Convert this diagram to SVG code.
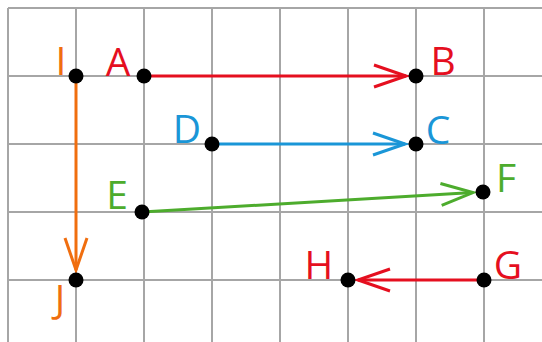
<svg xmlns="http://www.w3.org/2000/svg" width="542" height="342" viewBox="0 0 542 342">
<style>
.grid line{stroke:#a6a6a6;stroke-width:2}
.lbl{font-family:"Open Sans","Noto Sans",sans-serif;font-size:39px;text-anchor:middle}
.dot{fill:#000}
.red{fill:#e50f1f}.blue{fill:#1a96d7}.green{fill:#4dac2d}.orange{fill:#f06e0f}
.con{stroke-width:3;fill:none}
</style>
<defs>
<marker id="mr" markerUnits="userSpaceOnUse" markerWidth="40" markerHeight="30" viewBox="-36 -15 40 30" refX="0" refY="0" orient="auto"><path d="M-32,-11 L0,0 L-32,11" fill="none" stroke="#e50f1f" stroke-width="3"/></marker>
<marker id="mb" markerUnits="userSpaceOnUse" markerWidth="40" markerHeight="30" viewBox="-36 -15 40 30" refX="0" refY="0" orient="auto"><path d="M-32,-11 L0,0 L-32,11" fill="none" stroke="#1a96d7" stroke-width="3"/></marker>
<marker id="mg" markerUnits="userSpaceOnUse" markerWidth="40" markerHeight="30" viewBox="-36 -15 40 30" refX="0" refY="0" orient="auto"><path d="M-32,-11 L0,0 L-32,11" fill="none" stroke="#4dac2d" stroke-width="3"/></marker>
<marker id="mo" markerUnits="userSpaceOnUse" markerWidth="40" markerHeight="30" viewBox="-36 -15 40 30" refX="0" refY="0" orient="auto"><path d="M-32,-11 L0,0 L-32,11" fill="none" stroke="#f06e0f" stroke-width="3"/></marker>
</defs>
<rect width="542" height="342" fill="#fff"/>
<g class="grid">
<line x1="8" y1="8" x2="8" y2="342"/><line x1="76" y1="8" x2="76" y2="342"/><line x1="144" y1="8" x2="144" y2="342"/><line x1="212" y1="8" x2="212" y2="342"/><line x1="280" y1="8" x2="280" y2="342"/><line x1="348" y1="8" x2="348" y2="342"/><line x1="416" y1="8" x2="416" y2="342"/><line x1="484" y1="8" x2="484" y2="342"/>
<line x1="8" y1="8" x2="542" y2="8"/><line x1="8" y1="76" x2="542" y2="76"/><line x1="8" y1="144" x2="542" y2="144"/><line x1="8" y1="212" x2="542" y2="212"/><line x1="8" y1="280" x2="542" y2="280"/>
</g>
<g id="connectors">
<line class="con" x1="76" y1="76" x2="76" y2="270" stroke="#f06e0f" marker-end="url(#mo)"/>
<line class="con" x1="144" y1="76" x2="406" y2="76" stroke="#e50f1f" marker-end="url(#mr)"/>
<line class="con" x1="212" y1="144" x2="405" y2="144" stroke="#1a96d7" marker-end="url(#mb)"/>
<line class="con" x1="142" y1="212" x2="473" y2="192.6" stroke="#4dac2d" marker-end="url(#mg)"/>
<line class="con" x1="484" y1="280" x2="358" y2="280" stroke="#e50f1f" marker-end="url(#mr)"/>
</g>
<g id="I"><circle class="dot" cx="76" cy="76" r="7.5"/><text class="lbl orange" x="61" y="75">I</text></g>
<g id="A"><circle class="dot" cx="144" cy="76" r="7.5"/><text class="lbl red" x="118" y="76">A</text></g>
<g id="B"><circle class="dot" cx="416" cy="76" r="7.5"/><text class="lbl red" x="443" y="75">B</text></g>
<g id="C"><circle class="dot" cx="416" cy="144" r="7.5"/><text class="lbl blue" x="438" y="144">C</text></g>
<g id="D"><circle class="dot" cx="212" cy="144" r="7.5"/><text class="lbl blue" x="187" y="143">D</text></g>
<g id="E"><circle class="dot" cx="142" cy="212" r="7.5"/><text class="lbl green" x="117" y="209">E</text></g>
<g id="F"><circle class="dot" cx="483" cy="192" r="7.5"/><text class="lbl green" x="506" y="192">F</text></g>
<g id="G"><circle class="dot" cx="484" cy="280" r="7.5"/><text class="lbl red" x="508" y="279">G</text></g>
<g id="H"><circle class="dot" cx="348" cy="280" r="7.5"/><text class="lbl red" x="319" y="279">H</text></g>
<g id="J"><circle class="dot" cx="76" cy="280" r="7.5"/><text class="lbl orange" x="60" y="313">J</text></g>
</svg>
